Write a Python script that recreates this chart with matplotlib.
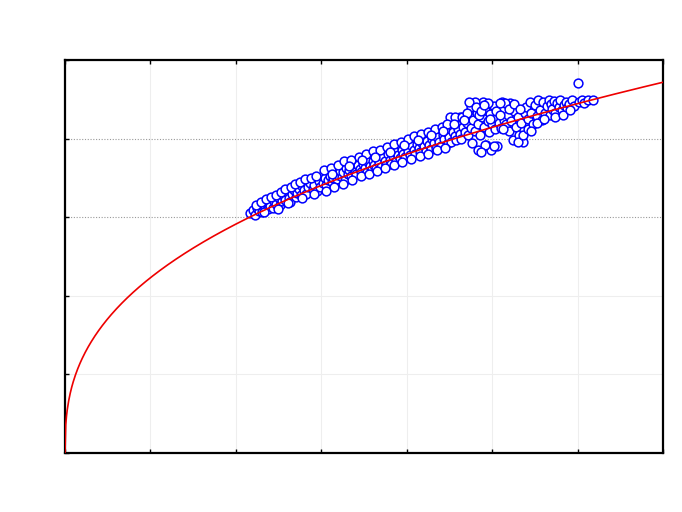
import matplotlib
matplotlib.use("Agg")
import matplotlib.pyplot as plt
import numpy as np

# scatter data (x, y)
x_pts = [
    2.17, 2.20, 2.22, 2.25, 2.27, 2.30, 2.31, 2.34, 2.36, 2.38, 2.40, 2.40,
    2.43, 2.45, 2.47, 2.50, 2.52, 2.54, 2.56, 2.58, 2.60, 2.62, 2.63, 2.66, 2.68,
    2.70, 2.72, 2.74, 2.76, 2.78, 2.80, 2.82, 2.85, 2.87, 2.90, 2.92, 2.95, 2.97, 2.99,
    3.02, 3.04, 3.06, 3.08, 3.10, 3.12, 3.14, 3.16, 3.18, 3.20, 3.22, 3.24, 3.26, 3.28, 3.29,
    3.31, 3.33, 3.35, 3.37, 3.39, 3.41, 3.43, 3.45, 3.47, 3.49, 3.51, 3.53, 3.55, 3.57, 3.59, 3.60,
    3.62, 3.64, 3.66, 3.68, 3.70, 3.72, 3.74, 3.76, 3.78, 3.80, 3.82, 3.84, 3.86, 3.88,
    3.90, 3.92, 3.94, 3.96, 3.98, 4.00, 4.02, 4.04, 4.06, 4.08, 4.10, 4.12, 4.14, 4.16, 4.18,
    4.20, 4.22, 4.24, 4.26, 4.28, 4.30, 4.32, 4.34, 4.36, 4.38, 4.40, 4.42, 4.44, 4.46, 4.48,
    4.51, 4.62, 4.57, 4.65,
    4.50, 4.52, 4.54, 4.56, 4.58, 4.60, 4.62, 4.64, 4.66, 4.68, 4.70, 4.72, 4.74, 4.75, 4.76, 4.78, 4.79,
    4.80, 4.82, 4.83, 4.85, 4.86, 4.88, 4.89, 4.90, 4.92, 4.93, 4.95, 4.96, 4.98, 4.99, 5.00, 5.02,
    5.03, 5.05, 5.06, 5.08, 5.10, 4.84, 4.92, 5.02,
    4.75, 4.80, 4.85, 4.70, 4.95, 5.21,
    5.12, 5.14, 5.16, 5.18, 5.20, 5.22, 5.24, 5.26, 5.28, 5.30, 5.32, 5.34, 5.36, 5.38, 5.15,
    5.30, 5.36, 5.42,
    5.40, 5.42, 5.44, 5.46, 5.48, 5.50, 5.52, 5.54, 5.56, 5.58, 5.60, 5.62, 5.64, 5.66, 5.68, 5.69,
    5.70, 5.72, 5.74, 5.76, 5.78, 5.80, 5.82, 5.84, 5.86, 5.88, 5.90, 5.93, 5.96,
    6.00, 6.02, 6.05, 6.08, 6.12, 6.18,
    2.23, 2.29, 2.35, 2.41, 2.47, 2.53, 2.57, 2.64, 2.69, 2.75, 2.81, 2.88, 2.94,
    2.33, 2.49, 2.61, 2.77, 2.91,
    3.03, 3.11, 3.19, 3.27, 3.35, 3.44, 3.52, 3.61, 3.69, 3.77, 3.85, 3.93, 4.01, 4.09,
    4.17, 4.25, 4.33, 4.41, 4.47,
    3.05, 3.15, 3.25, 3.36, 3.46, 3.56, 3.65, 3.75, 3.85, 3.95, 4.05, 4.15, 4.25, 4.35, 4.45,
    3.13, 3.32, 3.48, 3.63, 3.80, 3.97, 4.13, 4.29, 4.43,
    4.55, 4.67, 4.73, 4.81, 4.87, 4.91, 4.97, 5.04, 4.77, 4.87, 5.09, 5.13, 5.20, 5.25,
    5.33, 5.45, 5.52, 5.61, 5.73, 5.83, 5.91, 5.09,
]
y_pts = [
    3.05, 3.09, 3.03, 3.12, 3.08, 3.15, 3.06, 3.12, 3.17, 3.10, 3.19, 3.14,
    3.12, 3.21, 3.17, 3.24, 3.15, 3.20, 3.27, 3.22, 3.32, 3.25, 3.19, 3.29, 3.34,
    3.26, 3.31, 3.36, 3.28, 3.40, 3.34, 3.30, 3.38, 3.44, 3.36, 3.41, 3.33, 3.46, 3.39,
    3.44, 3.50, 3.41, 3.47, 3.53, 3.45, 3.50, 3.56, 3.48, 3.54, 3.59, 3.51, 3.57, 3.47, 3.62,
    3.55, 3.60, 3.52, 3.64, 3.58, 3.55, 3.66, 3.61, 3.57, 3.68, 3.63, 3.58, 3.70, 3.65, 3.61, 3.72,
    3.66, 3.62, 3.74, 3.69, 3.64, 3.77, 3.71, 3.66, 3.80, 3.73, 3.68, 3.78, 3.83, 3.72,
    3.79, 3.75, 3.86, 3.81, 3.77, 3.89, 3.84, 3.79, 3.91, 3.86, 3.80, 3.93, 3.88, 3.83, 3.95,
    3.90, 3.84, 3.97, 3.92, 3.87, 3.99, 3.94, 3.88, 4.02, 3.96, 3.91, 4.04, 3.99, 4.08, 3.94,
    4.27, 4.27, 4.27, 4.27,
    4.02, 3.96, 4.08, 4.03, 3.98, 4.12, 4.06, 4.00, 4.15, 4.09, 4.20, 4.04, 4.30, 4.14, 4.38, 4.24, 4.44,
    4.10, 4.33, 4.19, 4.41, 4.05, 4.28, 4.47, 4.15, 4.36, 3.92, 4.22, 4.09, 4.31, 3.86, 4.18, 4.42,
    4.12, 4.26, 3.90, 4.20, 4.14, 3.85, 3.92, 3.91,
    4.40, 4.47, 4.30, 4.33, 4.45, 4.45,
    4.47, 4.24, 4.18, 4.30, 4.10, 4.23, 3.98, 4.35, 4.15, 4.28, 4.05, 4.20, 3.96, 4.33, 4.45,
    3.96, 4.05, 4.12,
    4.40, 4.25, 4.47, 4.33, 4.18, 4.43, 4.29, 4.49, 4.37, 4.24, 4.46, 4.33, 4.41, 4.49, 4.30, 4.44,
    4.38, 4.48, 4.32, 4.45, 4.40, 4.49, 4.36, 4.43, 4.47, 4.39, 4.44, 4.49, 4.42,
    4.71, 4.47, 4.49, 4.45, 4.49, 4.49,
    3.16, 3.19, 3.23, 3.26, 3.28, 3.32, 3.36, 3.38, 3.42, 3.45, 3.48, 3.50, 3.53,
    3.06, 3.11, 3.18, 3.24, 3.30,
    3.60, 3.63, 3.67, 3.71, 3.73, 3.77, 3.80, 3.84, 3.86, 3.89, 3.93, 3.96, 3.99, 4.03,
    4.06, 4.09, 4.12, 4.15, 4.18,
    3.33, 3.38, 3.42, 3.47, 3.52, 3.55, 3.59, 3.62, 3.66, 3.70, 3.74, 3.78, 3.81, 3.85, 3.88,
    3.55, 3.65, 3.73, 3.77, 3.83, 3.92, 3.98, 4.05, 4.10,
    4.18, 4.24, 4.47, 4.40, 4.35, 4.43, 4.25, 4.35, 3.95, 3.83, 4.30, 4.12, 4.38, 4.44,
    4.38, 4.10, 4.20, 4.25, 4.28, 4.30, 4.36, 4.45,
]

# fitted power-law curve parameters
fit_a = 2.23
fit_b = 0.385

x_min, x_max = 0, 7
y_min, y_max = 0, 5

fig = plt.figure(figsize=(6.82, 5.12), dpi=100)
ax = fig.add_axes([65 / 682, 1 - 453 / 512, 598 / 682, 393 / 512])

# grid
for xv in range(1, 7):
    ax.axvline(xv, color="#eeeeee", lw=0.8, zorder=0)
for yv in (1, 2):
    ax.axhline(yv, color="#eeeeee", lw=0.8, zorder=0)
for yv in (3, 4):
    ax.axhline(yv, color="#999999", lw=0.8, ls=(0, (1, 1.5)), zorder=0)

ax.scatter(x_pts, y_pts, s=40, facecolors="white", edgecolors="#0000ff",
           linewidths=1.1, zorder=2)

xc = np.linspace(0, x_max, 800)
ax.plot(xc, fit_a * xc ** fit_b, color="#ee0000", lw=1.2, zorder=3)

ax.set_xlim(x_min, x_max)
ax.set_ylim(y_min, y_max)
ax.set_xticks(range(0, 8))
ax.set_yticks(range(0, 6))
ax.tick_params(direction="in", length=3, width=1, top=True, right=False,
               labelbottom=False, labelleft=False)
for sp in ax.spines.values():
    sp.set_linewidth(1.6)
    sp.set_color("black")

fig.savefig("out.png", dpi=100)
